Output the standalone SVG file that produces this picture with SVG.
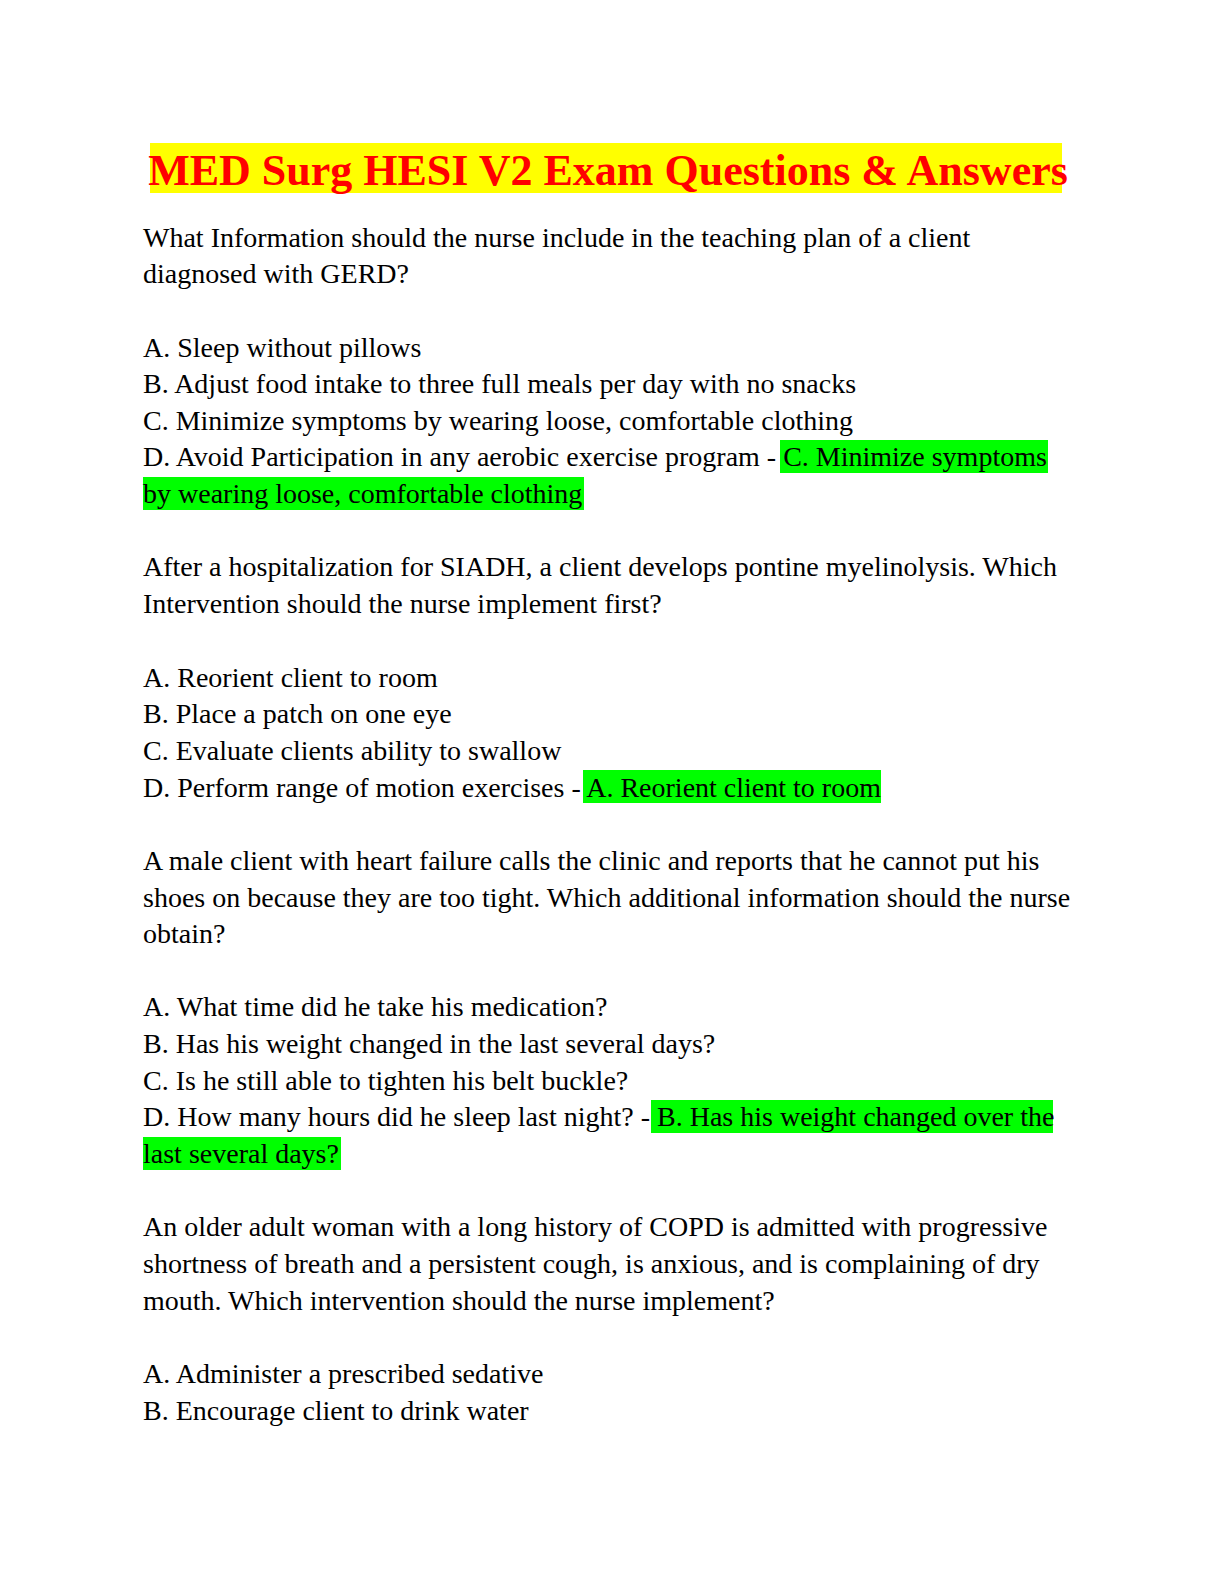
<svg xmlns="http://www.w3.org/2000/svg" width="1224" height="1584" viewBox="0 0 1224 1584">
<style>
text{font-family:"Liberation Serif","Times New Roman",serif;font-size:28px;fill:#000}
.t{font-size:44px;font-weight:bold;fill:#ff0000}
.hl{fill:#00ff00}
</style>
<rect width="1224" height="1584" fill="#fff"/>
<rect x="150" y="143" width="912" height="50" fill="#ffff00"/>
<text class="t" x="608" y="185" text-anchor="middle">MED Surg HESI V2 Exam Questions &amp; Answers</text>
<rect class="hl" x="780" y="440" width="268" height="33"/>
<rect class="hl" x="143" y="477" width="441" height="33"/>
<rect class="hl" x="583" y="770" width="298" height="33"/>
<rect class="hl" x="651" y="1100" width="402" height="33"/>
<rect class="hl" x="143" y="1137" width="198" height="33"/>
<g>
<text x="143" y="247">What Information should the nurse include in the teaching plan of a client</text>
<text x="143" y="283">diagnosed with GERD?</text>
<text x="143" y="357">A. Sleep without pillows</text>
<text x="143" y="393">B. Adjust food intake to three full meals per day with no snacks</text>
<text x="143" y="430">C. Minimize symptoms by wearing loose, comfortable clothing</text>
<text x="143" y="466">D. Avoid Participation in any aerobic exercise program - C. Minimize symptoms</text>
<text x="143" y="503">by wearing loose, comfortable clothing</text>
<text x="143" y="576">After a hospitalization for SIADH, a client develops pontine myelinolysis. Which</text>
<text x="143" y="613">Intervention should the nurse implement first?</text>
<text x="143" y="687">A. Reorient client to room</text>
<text x="143" y="723">B. Place a patch on one eye</text>
<text x="143" y="760">C. Evaluate clients ability to swallow</text>
<text x="143" y="797">D. Perform range of motion exercises - A. Reorient client to room</text>
<text x="143" y="870">A male client with heart failure calls the clinic and reports that he cannot put his</text>
<text x="143" y="907">shoes on because they are too tight. Which additional information should the nurse</text>
<text x="143" y="943">obtain?</text>
<text x="143" y="1016">A. What time did he take his medication?</text>
<text x="143" y="1053">B. Has his weight changed in the last several days?</text>
<text x="143" y="1090">C. Is he still able to tighten his belt buckle?</text>
<text x="143" y="1126">D. How many hours did he sleep last night? - B. Has his weight changed over the</text>
<text x="143" y="1163">last several days?</text>
<text x="143" y="1236">An older adult woman with a long history of COPD is admitted with progressive</text>
<text x="143" y="1273">shortness of breath and a persistent cough, is anxious, and is complaining of dry</text>
<text x="143" y="1310">mouth. Which intervention should the nurse implement?</text>
<text x="143" y="1383">A. Administer a prescribed sedative</text>
<text x="143" y="1420">B. Encourage client to drink water</text>
</g>
</svg>
